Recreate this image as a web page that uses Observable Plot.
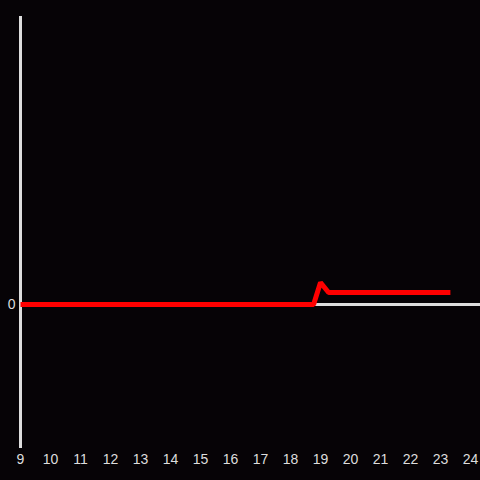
<!DOCTYPE html>
<html><head><meta charset="utf-8">
<script src="https://cdn.jsdelivr.net/npm/d3@7"></script>
<script src="https://cdn.jsdelivr.net/npm/@observablehq/plot@0.6"></script>
<style>
html,body{margin:0;padding:0;background:#060306;}
svg{display:block;}
</style></head><body>
<div id="chart"></div>
<script>
const hours = [9, 18.77, 19.0, 19.27, 23.33];
const values = [0, 0, 15.3, 8.3, 8.3];
const xTicks = [9,10,11,12,13,14,15,16,17,18,19,20,21,22,23,24];
const yTicks = [0];

const data = hours.map((h, i) => ({hour: h, value: values[i]}));

const chart = Plot.plot({
  width: 480,
  height: 480,
  marginLeft: 20,
  marginRight: 10,
  marginTop: 16,
  marginBottom: 32,
  style: {background: "#060306", color: "#dddddd", fontFamily: "Liberation Sans, Arial, sans-serif", fontSize: "14px"},
  x: {domain: [9, 24], label: null},
  y: {domain: [-100, 200], label: null},
  marks: [
    Plot.ruleY([0], {x1: 9, x2: 24.4, stroke: "#dddddd", strokeWidth: 3}),
    Plot.ruleX([9], {stroke: "#dddddd", strokeWidth: 3}),
    Plot.axisX({ticks: xTicks, tickSize: 0, tickPadding: 6, fontSize: 14, fill: "#dddddd", label: null, tickFormat: d => String(d)}),
    Plot.axisY({ticks: yTicks, tickSize: 0, tickPadding: 5, fontSize: 14, fill: "#dddddd", label: null}),
    Plot.line(data, {x: "hour", y: "value", stroke: "#ff0000", strokeWidth: 5, strokeLinejoin: "miter", strokeLinecap: "butt"})
  ]
});
document.getElementById("chart").appendChild(chart);
</script>
</body></html>
